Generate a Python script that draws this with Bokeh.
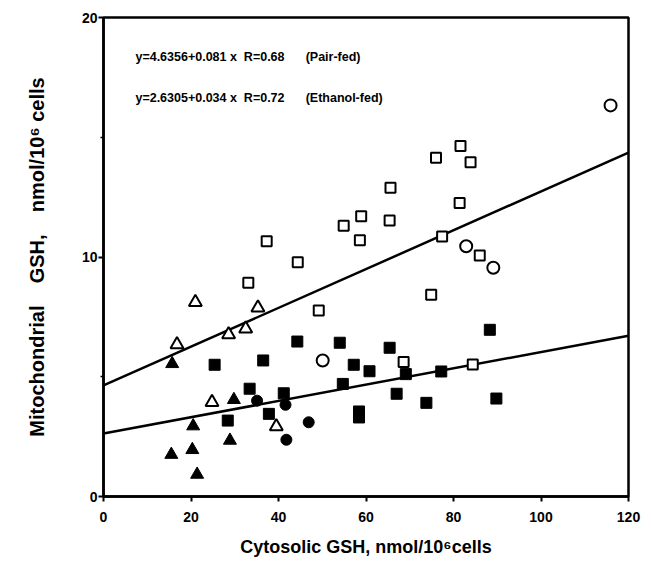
from bokeh.plotting import figure
from bokeh.models import Range1d, FixedTicker, Label
from bokeh.embed import file_html
from bokeh.resources import INLINE

# Pair-fed (open symbols)
pf_sq_x = [54.9, 58.6, 37.3, 44.4, 33.1, 49.2, 81.6, 76.0, 83.9, 65.6, 81.4, 58.9, 65.4, 77.4, 86.0, 74.9, 68.6, 84.4]
pf_sq_y = [11.3, 10.7, 10.66, 9.78, 8.93, 7.77, 14.63, 14.14, 13.96, 12.89, 12.25, 11.7, 11.52, 10.86, 10.06, 8.42, 5.62, 5.51]
pf_tri_x = [21.0, 35.3, 16.8, 28.6, 32.5, 24.8, 39.5]
pf_tri_y = [8.11, 7.88, 6.35, 6.76, 7.0, 3.94, 2.92]
pf_cir_x = [115.9, 82.9, 89.1, 50.1]
pf_cir_y = [16.33, 10.45, 9.55, 5.68]

# Ethanol-fed (filled symbols)
ef_sq_x = [44.3, 54.0, 25.4, 36.5, 57.2, 54.7, 33.4, 41.2, 37.8, 28.4, 88.3, 65.4, 60.8, 69.1, 77.2, 67.0, 73.8, 89.8, 58.4, 58.4]
ef_sq_y = [6.47, 6.42, 5.5, 5.68, 5.5, 4.7, 4.5, 4.31, 3.45, 3.17, 6.96, 6.21, 5.23, 5.11, 5.22, 4.29, 3.91, 4.09, 3.55, 3.3]
ef_tri_x = [15.7, 29.8, 20.5, 28.9, 15.5, 20.3, 21.4]
ef_tri_y = [5.54, 4.04, 2.94, 2.34, 1.75, 1.95, 0.92]
ef_cir_x = [35.1, 41.6, 46.9, 41.8]
ef_cir_y = [4.0, 3.83, 3.1, 2.37]

# Regression lines
intercepts = [4.6356, 2.6305]
slopes = [0.081, 0.034]
fit_x = [0, 120]
eq_labels = ["y=4.6356+0.081 x\u00a0\u00a0R=0.68", "y=2.6305+0.034 x\u00a0\u00a0R=0.72"]
group_labels = ["(Pair-fed)", "(Ethanol-fed)"]

x_ticks = [0, 20, 40, 60, 80, 100, 120]
y_ticks = [0, 10, 20]
y_minor = [5, 15]

FONT = "Liberation Sans"

p = figure(width=643, height=561, output_backend="svg", toolbar_location=None,
           x_range=Range1d(0, 120), y_range=Range1d(0, 20),
           min_border_left=103, min_border_right=15, min_border_top=17, min_border_bottom=65)
p.grid.visible = False
p.background_fill_color = "white"
p.border_fill_color = "white"
p.outline_line_color = "black"
p.outline_line_width = 2.5

for ax in (p.xaxis[0], p.yaxis[0]):
    ax.axis_line_width = 2.5
    ax.axis_line_color = "black"
    ax.major_tick_line_width = 2
    ax.major_tick_in = 0
    ax.major_tick_out = 5
    ax.minor_tick_line_width = 1.5
    ax.minor_tick_in = 0
    ax.minor_tick_out = 3
    ax.major_label_text_font = FONT
    ax.major_label_text_font_style = "bold"
    ax.major_label_text_font_size = "14px"
    ax.major_label_text_color = "black"
    ax.axis_label_text_font = FONT
    ax.axis_label_text_font_style = "bold"
    ax.axis_label_text_font_size = "18px"
    ax.axis_label_text_color = "black"

p.yaxis.axis_label_text_font_size = "20px"
p.xaxis.ticker = FixedTicker(ticks=x_ticks, minor_ticks=[])
p.yaxis.ticker = FixedTicker(ticks=y_ticks, minor_ticks=y_minor)
p.xaxis.axis_label = "Cytosolic GSH, nmol/10\u2076cells"
p.yaxis.axis_label = "Mitochondrial\u00a0\u00a0\u00a0\u00a0GSH,\u00a0\u00a0\u00a0\u00a0nmol/10\u2076 cells"
p.xaxis.major_label_standoff = 10
p.xaxis.axis_label_standoff = 12
p.yaxis.major_label_standoff = 1
p.yaxis.axis_label_standoff = 31

for a, b in zip(intercepts, slopes):
    p.line(fit_x, [a + b * x for x in fit_x], line_color="black", line_width=2.5)

p.scatter(pf_sq_x, pf_sq_y, marker="square", size=10, fill_color="white", line_color="black", line_width=2)
p.scatter(pf_tri_x, pf_tri_y, marker="triangle", size=13, fill_color="white", line_color="black", line_width=2)
p.scatter(pf_cir_x, pf_cir_y, marker="circle", size=12, fill_color="white", line_color="black", line_width=2)
p.scatter(ef_sq_x, ef_sq_y, marker="square", size=11, fill_color="black", line_color="black")
p.scatter(ef_tri_x, ef_tri_y, marker="triangle", size=13, fill_color="black", line_color="black")
p.scatter(ef_cir_x, ef_cir_y, marker="circle", size=11, fill_color="black", line_color="black")

eq_y = [18.33, 16.62]
for txt, grp, yy in zip(eq_labels, group_labels, eq_y):
    p.add_layout(Label(x=7.3, y=yy, text=txt, text_font=FONT, text_font_style="bold",
                       text_font_size="12.5px", text_baseline="middle", text_color="black"))
    p.add_layout(Label(x=46.2, y=yy, text=grp, text_font=FONT, text_font_style="bold",
                       text_font_size="12.5px", text_baseline="middle", text_color="black"))

open("out.html", "w").write(file_html(p, INLINE))
